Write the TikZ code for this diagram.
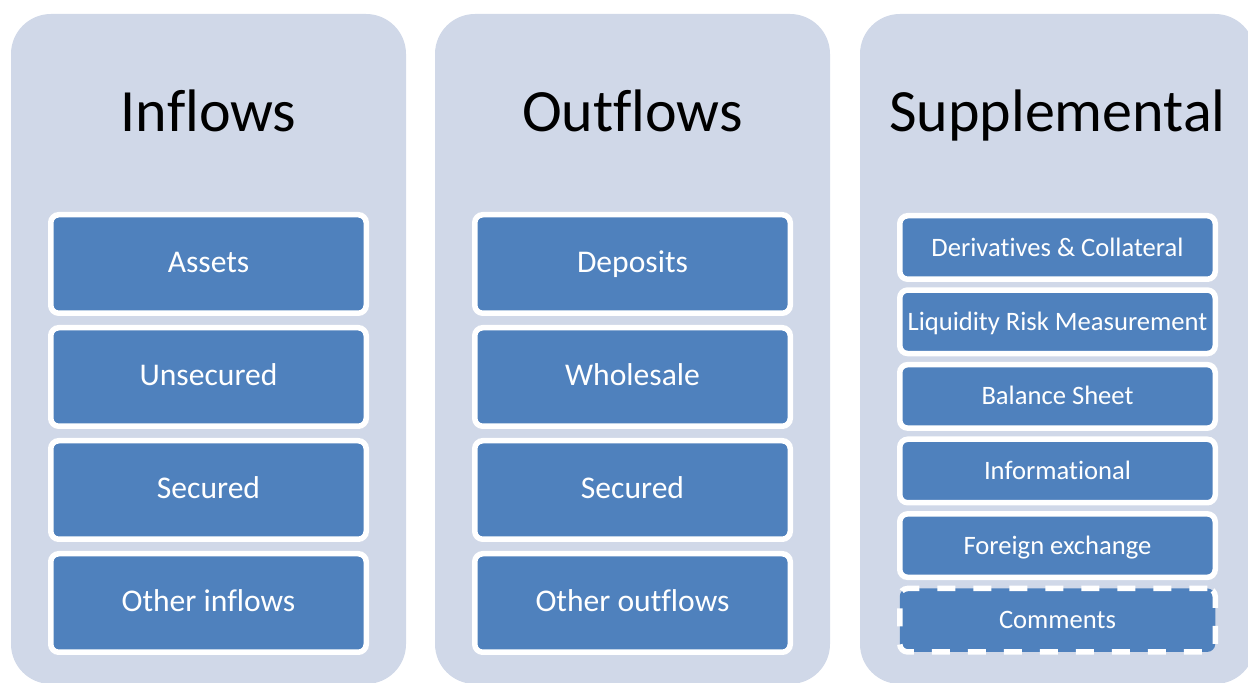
\documentclass[tikz,border=0pt]{standalone}
\usepackage{fontspec}
\setmainfont{Carlito}[Ligatures={NoCommon}]
\definecolor{panelc}{HTML}{D0D8E8}
\definecolor{boxc}{HTML}{4F81BD}
\begin{document}
\begin{tikzpicture}[x=0.5pt,y=-0.5pt,
  panel/.style={fill=panelc,draw=none,rounded corners=20pt},
  title/.style={anchor=base,font=\fontsize{30}{36}\selectfont,text=black,inner sep=0pt},
  bigbox/.style={draw=white,line width=2.75pt,fill=boxc,rounded corners=4pt,
    minimum width=157.75pt,minimum height=49.25pt,inner sep=0pt,
    text=white,font=\fontsize{15.8}{19}\selectfont,text height=0.83em,text depth=0pt},
  smallbox/.style={draw=white,line width=2.75pt,fill=boxc,rounded corners=4pt,
    minimum width=157.75pt,minimum height=31.75pt,inner sep=0pt,
    text=white,font=\fontsize{13.3}{16}\selectfont,text height=0.86em,text depth=0pt},
  dashbox/.style={smallbox,dash pattern=on 9pt off 9pt}]
\useasboundingbox (0,0) rectangle (1248,683);
\begin{scope}
\clip (0,0) rectangle (1248,683);
\fill[panel] (11,14) rectangle (406,684);
\fill[panel] (435,14) rectangle (830,684);
\fill[panel] (860,14) rectangle (1255,684);
\end{scope}
\node[title] (t1) at (208.5,132) {Inflows};
\node[title] (t2) at (632.5,132) {Outflows};
\node[title] (t3) at (1057.5,132) {Supplemental};
% Inflows
\node[bigbox] (i1) at (208.5,264) {Assets};
\node[bigbox] (i2) at (208.5,377) {Unsecured};
\node[bigbox] (i3) at (208.5,490) {Secured};
\node[bigbox] (i4) at (208.5,603) {Other inflows};
% Outflows
\node[bigbox] (o1) at (632.5,264) {Deposits};
\node[bigbox] (o2) at (632.5,377) {Wholesale};
\node[bigbox] (o3) at (632.5,490) {Secured};
\node[bigbox] (o4) at (632.5,603) {Other outflows};
% Supplemental
\node[smallbox] (s1) at (1057.5,247.5) {Derivatives \& Collateral};
\node[smallbox] (s2) at (1057.5,321.8) {Liquidity Risk Measurement};
\node[smallbox] (s3) at (1057.5,396.4) {Balance Sheet};
\node[smallbox] (s4) at (1057.5,471) {Informational};
\node[smallbox] (s5) at (1057.5,545.6) {Foreign exchange};
\node[dashbox] (s6) at (1057.5,620.2) {Comments};
\end{tikzpicture}
\end{document}
